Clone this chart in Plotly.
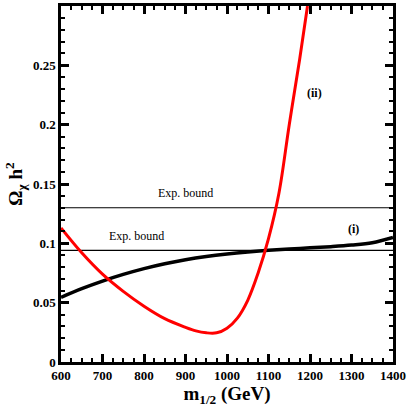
import plotly.graph_objects as go

# curve (i)
m_i = [600, 650, 700, 750, 800, 850, 900, 950, 1000, 1050, 1100, 1150, 1200, 1250, 1300, 1350, 1400]
omega_i = [0.0545, 0.0618, 0.0682, 0.0738, 0.0787, 0.0828, 0.0862, 0.0889, 0.0910, 0.0927,
           0.0941, 0.0952, 0.0962, 0.0972, 0.0985, 0.1005, 0.105]

# curve (ii)
m_ii = [600, 650, 700, 750, 800, 850, 900, 925, 950, 975, 1000, 1025, 1050, 1075, 1100, 1125, 1150, 1175, 1194]
omega_ii = [0.113, 0.092, 0.074, 0.0595, 0.047, 0.0365, 0.0292, 0.0262, 0.0246, 0.0246, 0.0285,
            0.037, 0.052, 0.075, 0.104, 0.142, 0.20, 0.255, 0.30]

# experimental bounds
bounds = [0.094, 0.13]

ytick_vals = [0, 0.05, 0.1, 0.15, 0.2, 0.25]
ytick_text = ["0", "0.05", "0.1", "0.15", "0.2", "0.25"]
xtick_vals = [600, 700, 800, 900, 1000, 1100, 1200, 1300, 1400]

fig = go.Figure()

for b in bounds:
    fig.add_trace(go.Scatter(x=[600, 1400], y=[b, b], mode="lines",
                             line=dict(color="black", width=1.2), showlegend=False))

fig.add_trace(go.Scatter(x=m_i, y=omega_i, mode="lines",
                         line=dict(color="black", width=3.5, shape="spline", smoothing=1.0),
                         showlegend=False))
fig.add_trace(go.Scatter(x=m_ii, y=omega_ii, mode="lines",
                         line=dict(color="red", width=3, shape="spline"), showlegend=False))

serif = "Liberation Serif, Times New Roman, serif"
notes = [(899, 0.1427, "Exp. bound"),
         (781, 0.106, "Exp. bound"),
         (1306, 0.112, "<b>(i)</b>"),
         (1211, 0.227, "<b>(ii)</b>")]
for x, y, t in notes:
    fig.add_annotation(x=x, y=y, text=t, showarrow=False,
                       font=dict(family=serif, size=12, color="black"))

axis_common = dict(showline=True, linecolor="black", linewidth=2.5, mirror="allticks",
                   ticks="inside", ticklen=8, tickwidth=2.5, tickcolor="black",
                   showgrid=False, zeroline=False,
                   tickfont=dict(family=serif, size=13, color="black", weight="bold"))

fig.update_xaxes(range=[600, 1400], tickvals=xtick_vals,
                 minor=dict(ticks="inside", ticklen=4, tickwidth=1.5, tickcolor="black", dtick=25),
                 title=dict(text="<b>m<sub>1/2</sub> (GeV)</b>", standoff=2,
                            font=dict(family=serif, size=19, color="black")),
                 **axis_common)
fig.update_yaxes(range=[0, 0.3], tickvals=ytick_vals, ticktext=ytick_text,
                 minor=dict(ticks="inside", ticklen=4, tickwidth=1.5, tickcolor="black", dtick=0.01),
                 title=dict(text="<b>Ω<sub>χ</sub> h<sup>2</sup></b>", standoff=6,
                            font=dict(family=serif, size=19, color="black")),
                 **axis_common)

fig.update_layout(width=409, height=409, margin=dict(l=61, r=13, t=3, b=47),
                  plot_bgcolor="white", paper_bgcolor="white")

# drop the default page margin so the figure sits at the window corner
fig.write_html("out.html", config={"displayModeBar": False},
               post_script="document.body.style.margin='0';")
